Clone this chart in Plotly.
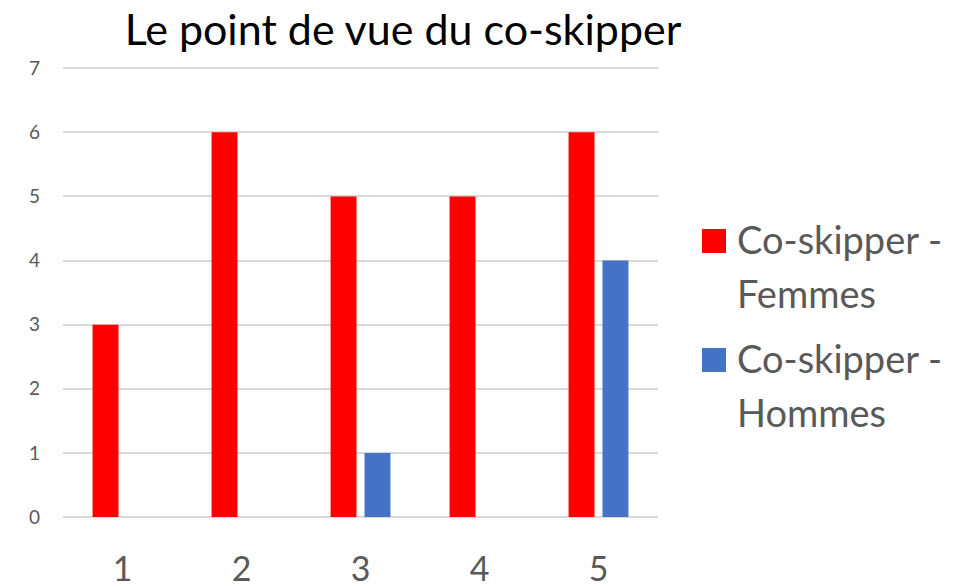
import plotly.graph_objects as go

categories = ["1", "2", "3", "4", "5"]
femmes = [3, 6, 5, 5, 6]
hommes = [0, 0, 1, 0, 4]
series_names = ["Co-skipper - Femmes", "Co-skipper - Hommes"]
series_colors = ["#FF0000", "#4472C4"]
y_ticks = [0, 1, 2, 3, 4, 5, 6, 7]
title_text = "Le point de vue du co-skipper"

W, H = 972, 587
L, R, T, B = 63, 314, 65, 70
plot_w = W - L - R
plot_h = H - T - B

FONT = "Lato, Carlito, Calibri, sans-serif"
GREY = "#595959"

fig = go.Figure()
for name, vals, col in zip(series_names, [femmes, hommes], series_colors):
    fig.add_trace(go.Bar(x=categories, y=vals, name=name, marker_color=col,
                         marker_line_width=0, showlegend=False))


def px_x(px):
    return (px - L) / plot_w


def px_y(py):
    return (H - B - py) / plot_h


# custom legend block on the right: big squares and labels wrapped on two lines
legend_tops = [229, 348]
line_pitch = 54
for name, col, top in zip(series_names, series_colors, legend_tops):
    fig.add_shape(type="rect", xref="paper", yref="paper",
                  x0=px_x(702), x1=px_x(726), y0=px_y(top + 24), y1=px_y(top),
                  fillcolor=col, line_width=0)
    first, second = name.rsplit(" ", 1)
    for i, part in enumerate([first, second]):
        cap_mid = top + 10 + i * line_pitch
        fig.add_annotation(xref="paper", yref="paper", x=px_x(735), y=px_y(cap_mid - 25),
                           xanchor="left", yanchor="top", showarrow=False, align="left",
                           text=part, font=dict(family=FONT, size=38, color=GREY))

fig.update_layout(
    width=W, height=H,
    margin=dict(l=L, r=R, t=T, b=B),
    paper_bgcolor="white", plot_bgcolor="white",
    barmode="group", bargap=0.43, bargroupgap=0.235,
    title=dict(text=title_text, x=403 / W, xanchor="center", xref="container",
               y=1 - 30 / H, yanchor="middle", yref="container",
               font=dict(family=FONT, size=43, color="black")),
    xaxis=dict(showgrid=False, showline=False, ticks="", automargin=False,
               tickfont=dict(family=FONT, size=34, color=GREY),
               ticklabelstandoff=29),
    yaxis=dict(range=[0, 7.05], tickvals=y_ticks, showgrid=True, gridcolor="#D9D9D9",
               gridwidth=1.5, zeroline=True, zerolinecolor="#D9D9D9", zerolinewidth=1.5,
               showline=False, ticks="", automargin=False,
               tickfont=dict(family=FONT, size=19, color=GREY),
               ticklabelstandoff=22),
)

fig.write_html("out.html")
